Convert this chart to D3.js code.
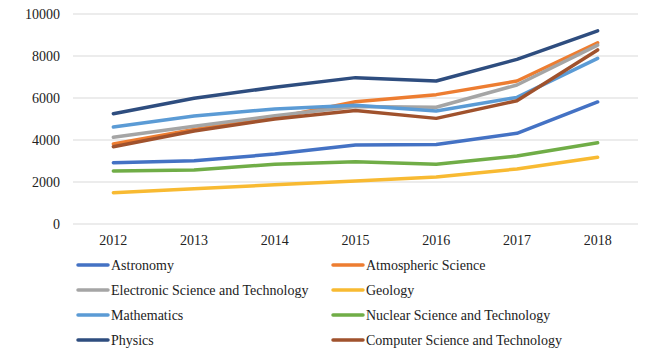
<!DOCTYPE html>
<html><head><meta charset="utf-8">
<script src="https://cdn.jsdelivr.net/npm/d3@7"></script>
<style>body{margin:0;background:#fff}svg{display:block}</style>
</head><body>
<svg id="c" width="654" height="356"></svg>
<script>
const years = ["2012","2013","2014","2015","2016","2017","2018"];
const yTicks = [0,2000,4000,6000,8000,10000];
const seriesNames = ["Astronomy","Atmospheric Science","Electronic Science and Technology","Geology","Mathematics","Nuclear Science and Technology","Physics","Computer Science and Technology"];
const colors = ["#4472C4","#ED7D31","#A5A5A5","#F8BA32","#5B9BD5","#70AD47","#2E4D7F","#A0522D"];
const astronomy   = [2920,3010,3330,3760,3790,4320,5810];
const atmospheric = [3810,4500,5050,5820,6160,6810,8630];
const electronic  = [4130,4650,5150,5600,5560,6620,8520];
const geology     = [1490,1680,1870,2050,2240,2620,3180];
const mathematics = [4620,5140,5480,5650,5380,6030,7890];
const nuclear     = [2520,2570,2850,2970,2840,3240,3870];
const physics     = [5250,5985,6510,6970,6810,7840,9200];
const computer    = [3680,4430,5000,5400,5030,5870,8290];
const values = [astronomy,atmospheric,electronic,geology,mathematics,nuclear,physics,computer];

const svg = d3.select("#c");
const font = "'Liberation Serif','Times New Roman',serif";
const x = d3.scaleBand().domain(years).range([73,638]);
const y = d3.scaleLinear().domain([0,10000]).range([224,14]);

svg.append("g").selectAll("line").data(yTicks).join("line")
  .attr("x1",73).attr("x2",638)
  .attr("y1",d=>y(d)).attr("y2",d=>y(d))
  .attr("stroke","#d9d9d9").attr("stroke-width",1);

const ya = svg.append("g").attr("transform","translate(60,0)")
  .call(d3.axisLeft(y).tickValues(yTicks).tickSize(0).tickPadding(0).tickFormat(d3.format("d")));
ya.select(".domain").remove();
ya.selectAll("text").attr("font-family",font).attr("font-size",14).attr("fill","#222");

const xa = svg.append("g").attr("transform","translate(0,235)")
  .call(d3.axisBottom(x).tickSize(0).tickPadding(0));
xa.select(".domain").remove();
xa.selectAll("text").attr("font-family",font).attr("font-size",14).attr("fill","#222");

const line = d3.line()
  .x((d,i)=>x(years[i])+x.bandwidth()/2)
  .y(d=>y(d));

svg.append("g").selectAll("path").data(values).join("path")
  .attr("d",line)
  .attr("fill","none")
  .attr("stroke",(d,i)=>colors[i])
  .attr("stroke-width",3.5)
  .attr("stroke-linecap","round")
  .attr("stroke-linejoin","round");

const lg = svg.append("g").selectAll("g").data(seriesNames).join("g")
  .attr("transform",(d,i)=>`translate(${i%2===0?78:333},${265+Math.floor(i/2)*25})`);
lg.append("line").attr("x1",0).attr("x2",30).attr("y1",0).attr("y2",0)
  .attr("stroke",(d,i)=>colors[i]).attr("stroke-width",3.5).attr("stroke-linecap","round");
lg.append("text").attr("x",33).attr("y",0).attr("dy","0.35em")
  .attr("font-family",font).attr("font-size",14).attr("fill","#222")
  .text(d=>d);
</script>
</body></html>
